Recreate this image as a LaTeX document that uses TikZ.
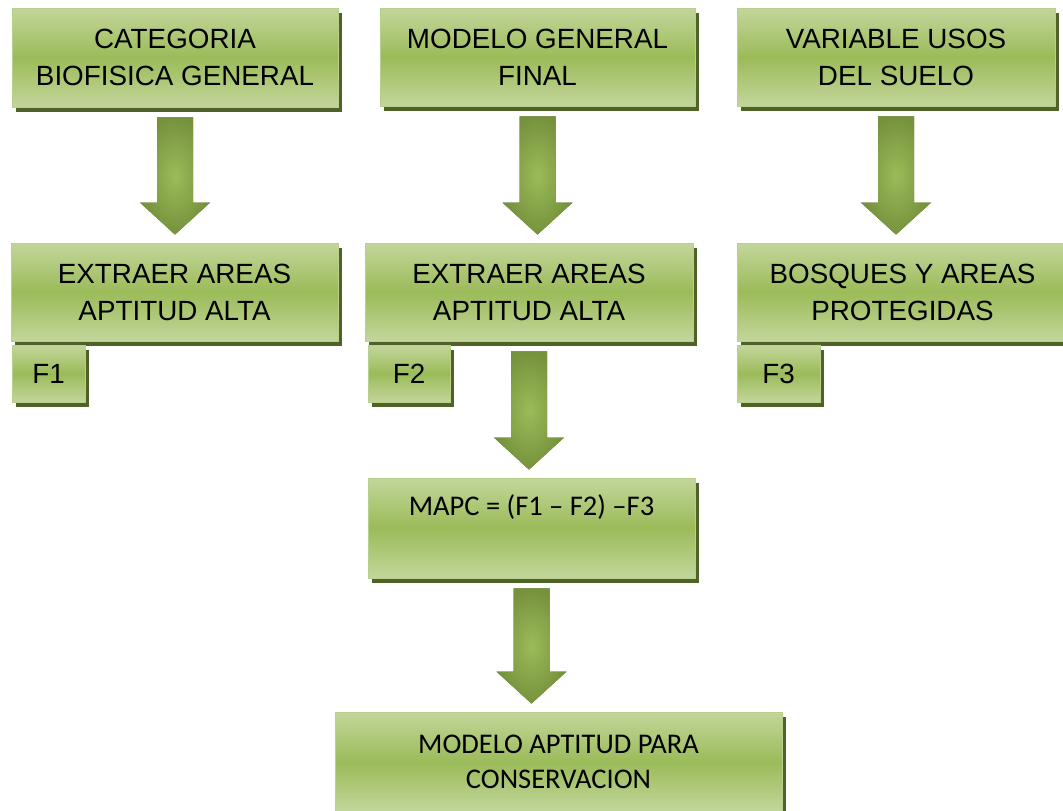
\documentclass[tikz,border=0pt]{standalone}
\usepackage{fontspec}
\setmainfont{Liberation Sans}
\newfontfamily\calibfont{Carlito}
\usetikzlibrary{calc,shadows}

\definecolor{lightleaf}{HTML}{C3D69B}
\definecolor{midleaf}{HTML}{9BBB59}
\definecolor{deepleaf}{HTML}{76923C}
\definecolor{shadeleaf}{HTML}{4F6228}
\definecolor{edgeleaf}{HTML}{B9CF8C}

\tikzset{
  greenbox/.style={
    rectangle, inner sep=0pt, align=center,
    draw=edgeleaf, line width=0.8pt,
    top color=lightleaf, bottom color=lightleaf, middle color=midleaf,
    copy shadow={shadow xshift=4pt, shadow yshift=-5pt, fill=shadeleaf, draw=none},
    font=\fontsize{27.8}{37}\selectfont
  },
  calibbox/.style={greenbox, font=\calibfont\fontsize{28.5}{35}\selectfont},
  arrowbody/.style={shading=radial, inner color=midleaf, outer color=deepleaf, draw=none},
  arrowshade/.style={fill=shadeleaf, draw=none}
}

% block arrow from the bottom of one box towards the top of another
\newcommand\flowarrow[2]{%
  \foreach \sty/\dx/\dy in {arrowshade/3pt/-3pt, arrowbody/0pt/0pt}{
    \path[\sty, xshift=\dx, yshift=\dy]
      let \p1=(#1.south), \p2=(#2.north) in
      (\x1-18pt,\y1-10pt) -- (\x1+18pt,\y1-10pt) -- (\x1+18pt,\y2+40pt)
      -- (\x1+35pt,\y2+40pt) -- (\x1,\y2+8pt) -- (\x1-35pt,\y2+40pt)
      -- (\x1-18pt,\y2+40pt) -- cycle;
  }%
}

\begin{document}
\begin{tikzpicture}[x=1pt,y=-1pt]
  \useasboundingbox (0,0) rectangle (1063,811);
  \clip (0,0) rectangle (1063,811);

  % first row
  \node[greenbox, minimum width=326pt, minimum height=99pt] (cat) at (175,57.5)
    {CATEGORIA\\BIOFISICA GENERAL};
  \node[greenbox, minimum width=315pt, minimum height=98pt] (mod) at (537.5,57)
    {MODELO GENERAL\\FINAL};
  \node[greenbox, minimum width=318pt, minimum height=98pt] (var) at (896,57)
    {VARIABLE USOS\\DEL SUELO};

  % second row
  \node[greenbox, minimum width=327pt, minimum height=98pt] (ext1) at (174.5,292)
    {EXTRAER AREAS\\APTITUD ALTA};
  \node[greenbox, minimum width=328pt, minimum height=98pt] (ext2) at (529,292)
    {EXTRAER AREAS\\APTITUD ALTA};
  \node[greenbox, minimum width=331pt, minimum height=98pt] (bos) at (902.5,292)
    {BOSQUES Y AREAS\\PROTEGIDAS};

  % factor tags
  \node[greenbox, minimum width=73pt, minimum height=57pt] (f1) at (48.5,373.5) {F1};
  \node[greenbox, minimum width=82pt, minimum height=57pt] (f2) at (409,373.5) {F2};
  \node[greenbox, minimum width=83pt, minimum height=57pt] (f3) at (778.5,373.5) {F3};

  % combination and result
  \node[calibbox, minimum width=327pt, minimum height=100pt] (mapc) at (531.5,528)
    {MAPC = (F1 – F2) –F3\\\strut};
  \node[calibbox, minimum width=447pt, minimum height=100pt] (res) at (558.5,762)
    {MODELO APTITUD PARA\\CONSERVACION};

  % arrows
  \flowarrow{cat}{ext1}
  \flowarrow{mod}{ext2}
  \flowarrow{var}{bos}
  \flowarrow{ext2}{mapc}
  \flowarrow{mapc}{res}
\end{tikzpicture}
\end{document}
